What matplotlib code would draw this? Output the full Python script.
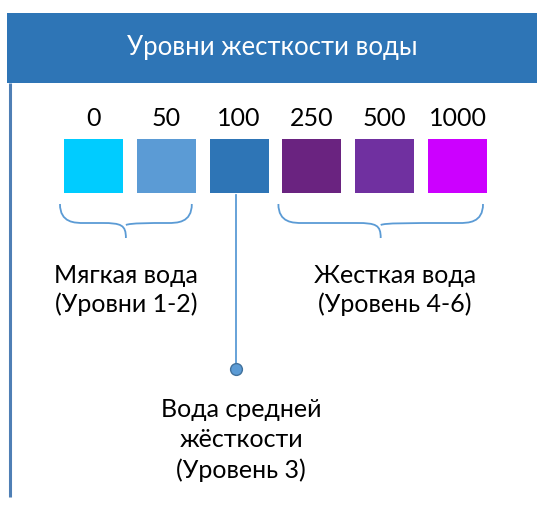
import matplotlib
matplotlib.use("Agg")
import matplotlib.pyplot as plt
from matplotlib.patches import Rectangle, PathPatch
from matplotlib.path import Path

# ── Data ──────────────────────────────────────────────
title = "Уровни жесткости воды"
levels = ["0", "50", "100", "250", "500", "1000"]
level_colors = ["#00CCFF", "#5B9BD5", "#2E75B6", "#6A2380", "#7030A0", "#CC00FF"]
group_labels = ["Мягкая вода\n(Уровни 1-2)", "Жесткая вода\n(Уровень 4-6)"]
group_spans = [(0, 1), (3, 5)]
middle_label = "Вода средней\nжёсткости\n(Уровень 3)"
middle_index = 2

plt.rcParams["font.family"] = ["Lato", "DejaVu Sans"]

W, H = 537, 505
fig = plt.figure(figsize=(W / 100, H / 100), dpi=100)
ax = fig.add_axes([0, 0, 1, 1])
ax.set_xlim(0, W)
ax.set_ylim(H, 0)
ax.axis("off")

# header band
ax.add_patch(Rectangle((7, 13), W - 7, 70, facecolor="#2E75B6", edgecolor="none"))
ax.text(272, 48, title, color="white", fontsize=18.5, ha="center", va="center")

# left rule
ax.plot([9.5, 9.5], [83, 497], color="#4F7FB5", lw=2.2, solid_capstyle="butt")

# squares
x0, step, size = 93.5, 72.8, 59
centers = [x0 + step * i for i in range(len(levels))]
for cx, lab, col in zip(centers, levels, level_colors):
    ax.add_patch(Rectangle((cx - size / 2, 139), size, 54, facecolor=col, edgecolor="none"))
    ax.text(cx, 119, lab, fontsize=18, ha="center", va="center", color="black")


def brace(xa, xb, ytop=204, ymid=223, ytip=238):
    xm = (xa + xb) / 2
    r = 15
    verts = [
        (xa, ytop), (xa, ymid), (xa + r, ymid), (xa + r * 1.6, ymid),
        (xm - r * 1.6, ymid), (xm - r * 0.3, ymid), (xm, ymid + 2), (xm, ytip),
        (xm, ymid + 2), (xm + r * 0.3, ymid), (xm + r * 1.6, ymid),
        (xb - r * 1.6, ymid), (xb - r, ymid), (xb, ymid), (xb, ytop),
    ]
    codes = [Path.MOVETO, Path.CURVE4, Path.CURVE4, Path.CURVE4,
             Path.LINETO, Path.CURVE4, Path.CURVE4, Path.CURVE4,
             Path.MOVETO, Path.CURVE4, Path.CURVE4, Path.LINETO,
             Path.CURVE4, Path.CURVE4, Path.CURVE4]
    ax.add_patch(PathPatch(Path(verts, codes), facecolor="none",
                           edgecolor="#5B9BD5", lw=1.3))


text_shift = [0, 14]
for label, (i0, i1), dx in zip(group_labels, group_spans, text_shift):
    xa = centers[i0] - size / 2 - 4
    xb = centers[i1] + size / 2 - 4
    brace(xa, xb)
    ax.text((xa + xb) / 2 + dx, 290, label, fontsize=18, ha="center",
            va="center", linespacing=1.3)

# connector for the middle level
mx = centers[middle_index] - 3
ax.plot([mx, mx], [195, 369], color="#5B9BD5", lw=1.3)
ax.plot(mx, 369, "o", ms=8.5, mfc="#5B9BD5", mec="#41719C", mew=1)
ax.text(mx + 5, 440, middle_label, fontsize=18, ha="center", va="center",
        linespacing=1.36)

fig.savefig("out.png", dpi=100)
